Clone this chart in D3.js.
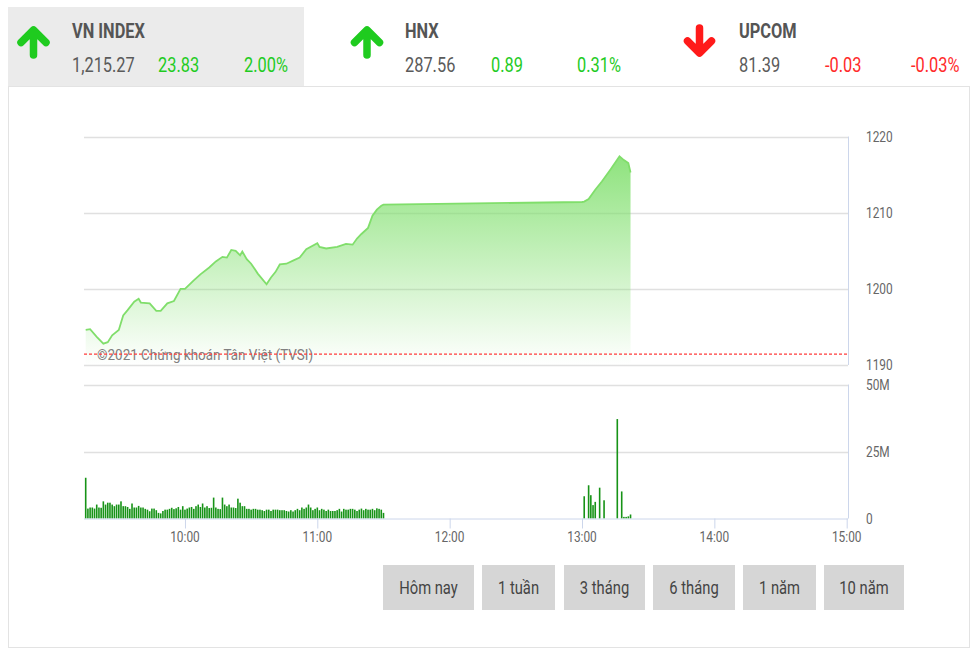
<!DOCTYPE html>
<html>
<head>
<meta charset="utf-8">
<script src="https://cdn.jsdelivr.net/npm/d3@7"></script>
<style>
  html, body { margin: 0; padding: 0; background: #fff; }
  svg { display: block; font-family: Roboto, "Noto Sans", sans-serif; }
</style>
</head>
<body>
<svg id="chart" width="978" height="657"></svg>
<script>
// ---------- DATA ----------
const indexNames = ["VN INDEX", "HNX", "UPCOM"];
const indexValues = ["1,215.27", "287.56", "81.39"];
const indexChanges = ["23.83", "0.89", "-0.03"];
const indexPercents = ["2.00%", "0.31%", "-0.03%"];
const indexDirections = ["up", "up", "down"];

const priceTimes = ["09:15","09:17","09:20","09:23","09:25","09:27","09:30","09:32","09:34","09:37","09:39","09:40",
  "09:44","09:47","09:49","09:52","09:55","09:58","10:00","10:04","10:07","10:11","10:14","10:17","10:19","10:21",
  "10:23","10:25","10:26","10:28","10:30","10:33","10:37","10:39","10:41","10:43","10:46","10:49","10:52","10:55",
  "11:00","11:01","11:04","11:09","11:13","11:16","11:18","11:20","11:23","11:25","11:27","11:29","11:30",
  "13:00","13:01","13:03","13:06","13:09","13:13","13:17","13:19","13:21","13:22"];
const priceValues = [1194.6,1194.7,1193.7,1192.8,1193.0,1193.9,1194.6,1196.5,1197.2,1198.3,1198.7,1198.2,
  1198.1,1197.1,1197.1,1198.1,1198.4,1200.0,1200.0,1201.1,1201.9,1202.8,1203.6,1204.2,1204.1,1205.1,
  1205.0,1204.4,1204.9,1203.9,1203.3,1202.0,1200.6,1201.5,1202.2,1203.2,1203.3,1203.7,1204.1,1205.2,
  1206.0,1205.5,1205.3,1205.5,1205.9,1205.8,1206.6,1207.2,1208.0,1209.6,1210.4,1210.9,1211.05,
  1211.4,1211.45,1211.8,1213.0,1214.1,1215.7,1217.4,1216.9,1216.5,1215.27];
const referencePrice = 1191.44;

const volumeTimes = ["09:15","09:16","09:17","09:18","09:19","09:20","09:21","09:22","09:23","09:24","09:25","09:26","09:27","09:28","09:29",
  "09:30","09:31","09:32","09:33","09:34","09:35","09:36","09:37","09:38","09:39","09:40","09:41","09:42","09:43","09:44",
  "09:45","09:46","09:47","09:48","09:49","09:50","09:51","09:52","09:53","09:54","09:55","09:56","09:57","09:58","09:59",
  "10:00","10:01","10:02","10:03","10:04","10:05","10:06","10:07","10:08","10:09","10:10","10:11","10:12","10:13","10:14",
  "10:15","10:16","10:17","10:18","10:19","10:20","10:21","10:22","10:23","10:24","10:25","10:26","10:27","10:28","10:29",
  "10:30","10:31","10:32","10:33","10:34","10:35","10:36","10:37","10:38","10:39","10:40","10:41","10:42","10:43","10:44",
  "10:45","10:46","10:47","10:48","10:49","10:50","10:51","10:52","10:53","10:54","10:55","10:56","10:57","10:58","10:59",
  "11:00","11:01","11:02","11:03","11:04","11:05","11:06","11:07","11:08","11:09","11:10","11:11","11:12","11:13","11:14",
  "11:15","11:16","11:17","11:18","11:19","11:20","11:21","11:22","11:23","11:24","11:25","11:26","11:27","11:28","11:29","11:30",
  "13:01","13:03","13:04","13:05","13:06","13:08","13:10","13:16","13:18","13:19","13:20","13:21","13:22"];
const volumeValues = [15.2,3.7,4.1,4.1,3.7,5.2,4.1,4.0,6.4,5.2,5.9,5.9,5.2,4.6,5.2,
  5.2,6.4,4.6,4.6,4.3,3.6,5.6,4.1,4.1,4.7,4.1,4.1,3.6,3.3,2.7,
  3.7,3.7,3.1,2.1,1.9,2.8,3.3,3.3,3.6,4.0,3.5,3.8,4.3,3.3,4.6,
  3.3,3.7,4.1,4.3,3.6,4.6,5.2,4.3,5.6,4.1,4.6,3.9,4.0,7.8,4.1,
  3.6,3.5,7.8,5.2,4.6,5.2,4.1,4.1,3.9,7.4,5.9,4.6,4.6,3.6,3.6,
  3.3,3.6,3.6,3.3,3.3,3.1,2.8,3.3,3.3,2.8,3.3,3.3,3.3,3.1,3.1,
  3.1,2.8,2.6,3.1,2.6,3.1,3.6,3.1,4.1,3.6,4.1,5.2,4.1,3.1,3.6,
  4.1,3.1,3.6,3.3,2.8,3.3,2.8,2.8,2.8,3.1,3.6,2.6,3.6,3.3,3.3,
  3.6,3.6,3.3,2.8,3.3,3.7,3.1,3.6,3.3,3.3,3.6,3.1,3.8,3.6,3.3,2.1,
  8.3,12.4,8.7,5.0,6.2,11.5,6.8,37.1,10.1,0.6,0.6,0.8,1.5]; // millions

const priceTicks = [1190, 1200, 1210, 1220];
const volumeTicks = [0, 25, 50];
const volumeTickLabels = ["0", "25M", "50M"];
const timeTicks = ["10:00", "11:00", "12:00", "13:00", "14:00", "15:00"];
const buttonLabels = ["Hôm nay", "1 tuần", "3 tháng", "6 tháng", "1 năm", "10 năm"];
const watermark = "©2021 Chứng khoán Tân Việt (TVSI)";

// ---------- DRAW ----------
const svg = d3.select("#chart");
const parse = d3.timeParse("%H:%M");
const SX = 0.82; // condensed text look

function ctext(g, x, y, str, opts) {
  return g.append("text")
    .attr("transform", `translate(${x},${y}) scale(${opts.sx || SX},1)`)
    .attr("font-size", opts.size)
    .attr("fill", opts.color)
    .attr("font-weight", opts.weight || "normal")
    .attr("text-anchor", opts.anchor || "start")
    .text(str);
}

// header
svg.append("rect").attr("x", 8).attr("y", 7).attr("width", 296).attr("height", 79).attr("fill", "#ebebeb");
const colBase = [72, 405, 739];
const arrowX = [33.5, 367, 699.5];
indexNames.forEach((name, i) => {
  const g = svg.append("g");
  const up = indexDirections[i] === "up";
  const col = up ? "#1fcb1f" : "#ff1a1a";
  const ax = arrowX[i];
  const arrow = up
    ? `M${ax},31 L${ax},55 M${ax-12.5},42.5 L${ax},30 L${ax+12.5},42.5`
    : `M${ax},28 L${ax},52 M${ax-12},41 L${ax},53 L${ax+12},41`;
  g.append("path").attr("d", arrow).attr("fill", "none").attr("stroke", col)
    .attr("stroke-width", 7.5).attr("stroke-linecap", "round").attr("stroke-linejoin", "round");
  const bx = colBase[i];
  ctext(g, bx, 38, name, {size: 20, color: "#555", weight: "bold"});
  ctext(g, bx, 72, indexValues[i], {size: 20, color: "#5a5a5a"});
  ctext(g, bx + 86, 72, indexChanges[i], {size: 20, color: up ? "#1fcb1f" : "#ff2a2a"});
  ctext(g, bx + 172, 72, indexPercents[i], {size: 20, color: up ? "#1fcb1f" : "#ff2a2a"});
});

// panel border
svg.append("rect").attr("x", 8.5).attr("y", 86.5).attr("width", 961).attr("height", 561)
  .attr("fill", "none").attr("stroke", "#e3e3e3");

// scales
const left = 84, right = 848;
const x = d3.scaleTime().domain([parse("09:15"), parse("15:00")]).range([85.7, 846.7]);
const yP = d3.scaleLinear().domain([1190, 1220]).range([365, 136.5]);
const yV = d3.scaleLinear().domain([0, 50]).range([518.5, 384.5]);

// price gridlines
svg.append("g").selectAll("line").data(priceTicks).join("line")
  .attr("x1", left).attr("x2", right)
  .attr("y1", d => Math.round(yP(d)) + 0.5).attr("y2", d => Math.round(yP(d)) + 0.5)
  .attr("stroke", "#e0e0e0").attr("stroke-width", 1.5);
svg.append("line").attr("x1", right + 0.5).attr("x2", right + 0.5)
  .attr("y1", yP(1220)).attr("y2", yP(1190)).attr("stroke", "#ccd6eb");

// gradient
const defs = svg.append("defs");
const grad = defs.append("linearGradient").attr("id", "ag").attr("gradientUnits", "userSpaceOnUse")
  .attr("x1", 0).attr("x2", 0).attr("y1", yP(1218)).attr("y2", yP(1190));
grad.append("stop").attr("offset", 0).attr("stop-color", "#7fdf6c").attr("stop-opacity", 0.9);
grad.append("stop").attr("offset", 1).attr("stop-color", "#7fdf6c").attr("stop-opacity", 0.0);

const pdata = priceTimes.map((t, i) => ({t: parse(t), v: priceValues[i]}));
const area = d3.area().x(d => x(d.t)).y0(yP(1190)).y1(d => yP(d.v));
const line = d3.line().x(d => x(d.t)).y(d => yP(d.v));
svg.append("path").datum(pdata).attr("d", area).attr("fill", "url(#ag)");
svg.append("path").datum(pdata).attr("d", line).attr("fill", "none")
  .attr("stroke", "#80de6b").attr("stroke-width", 1.8);

// watermark
ctext(svg, 97, 359.5, watermark, {size: 14, color: "#808080", sx: 0.96});

// reference dashed line
svg.append("line").attr("x1", left).attr("x2", right)
  .attr("y1", yP(referencePrice)).attr("y2", yP(referencePrice))
  .attr("stroke", "#ff3b3b").attr("stroke-width", 1.3).attr("stroke-dasharray", "3,2");

// price axis labels
priceTicks.forEach(d => ctext(svg, 866, yP(d) + 5, String(d), {size: 14.5, color: "#666"}));

// volume gridlines
svg.append("g").selectAll("line").data([25, 50]).join("line")
  .attr("x1", left).attr("x2", right)
  .attr("y1", d => Math.round(yV(d)) + 0.5).attr("y2", d => Math.round(yV(d)) + 0.5)
  .attr("stroke", "#e0e0e0").attr("stroke-width", 1.5);
svg.append("line").attr("x1", right + 0.5).attr("x2", right + 0.5)
  .attr("y1", yV(50)).attr("y2", yV(0)).attr("stroke", "#ccd6eb");

// volume bars
const vdata = volumeTimes.map((t, i) => ({t: parse(t), v: volumeValues[i]}));
svg.append("g").selectAll("rect").data(vdata).join("rect")
  .attr("x", d => x(d.t) - 0.8).attr("width", 1.6)
  .attr("y", d => yV(d.v)).attr("height", d => yV(0) - yV(d.v))
  .attr("fill", "#179317");

// x axis
const xAxis = d3.axisBottom(x).tickValues(timeTicks.map(parse)).tickFormat(d3.timeFormat("%H:%M")).tickSize(10).tickSizeOuter(0);
const xg = svg.append("g").attr("transform", `translate(0,${yV(0)})`).call(xAxis);
xg.select(".domain").attr("stroke", "#ccd6eb").attr("d", `M${left},0.5H${right}`);
xg.selectAll(".tick line").attr("stroke", "#ccd6eb");
xg.selectAll(".tick text").remove();
timeTicks.forEach(t => ctext(svg, x(parse(t)), 542, t, {size: 14.5, color: "#666", anchor: "middle"}));

// volume axis labels
volumeTicks.forEach((d, i) => ctext(svg, 866, yV(d) + 5, volumeTickLabels[i], {size: 14.5, color: "#666"}));

// buttons
const btnX = [383, 482, 564, 653, 743, 824];
const btnW = [91, 73, 81, 82, 73, 80];
buttonLabels.forEach((b, i) => {
  svg.append("rect").attr("x", btnX[i]).attr("y", 565).attr("width", btnW[i]).attr("height", 45).attr("fill", "#d6d6d6");
  ctext(svg, btnX[i] + btnW[i] / 2, 594, b, {size: 18, color: "#444", anchor: "middle"});
});
</script>
</body>
</html>
